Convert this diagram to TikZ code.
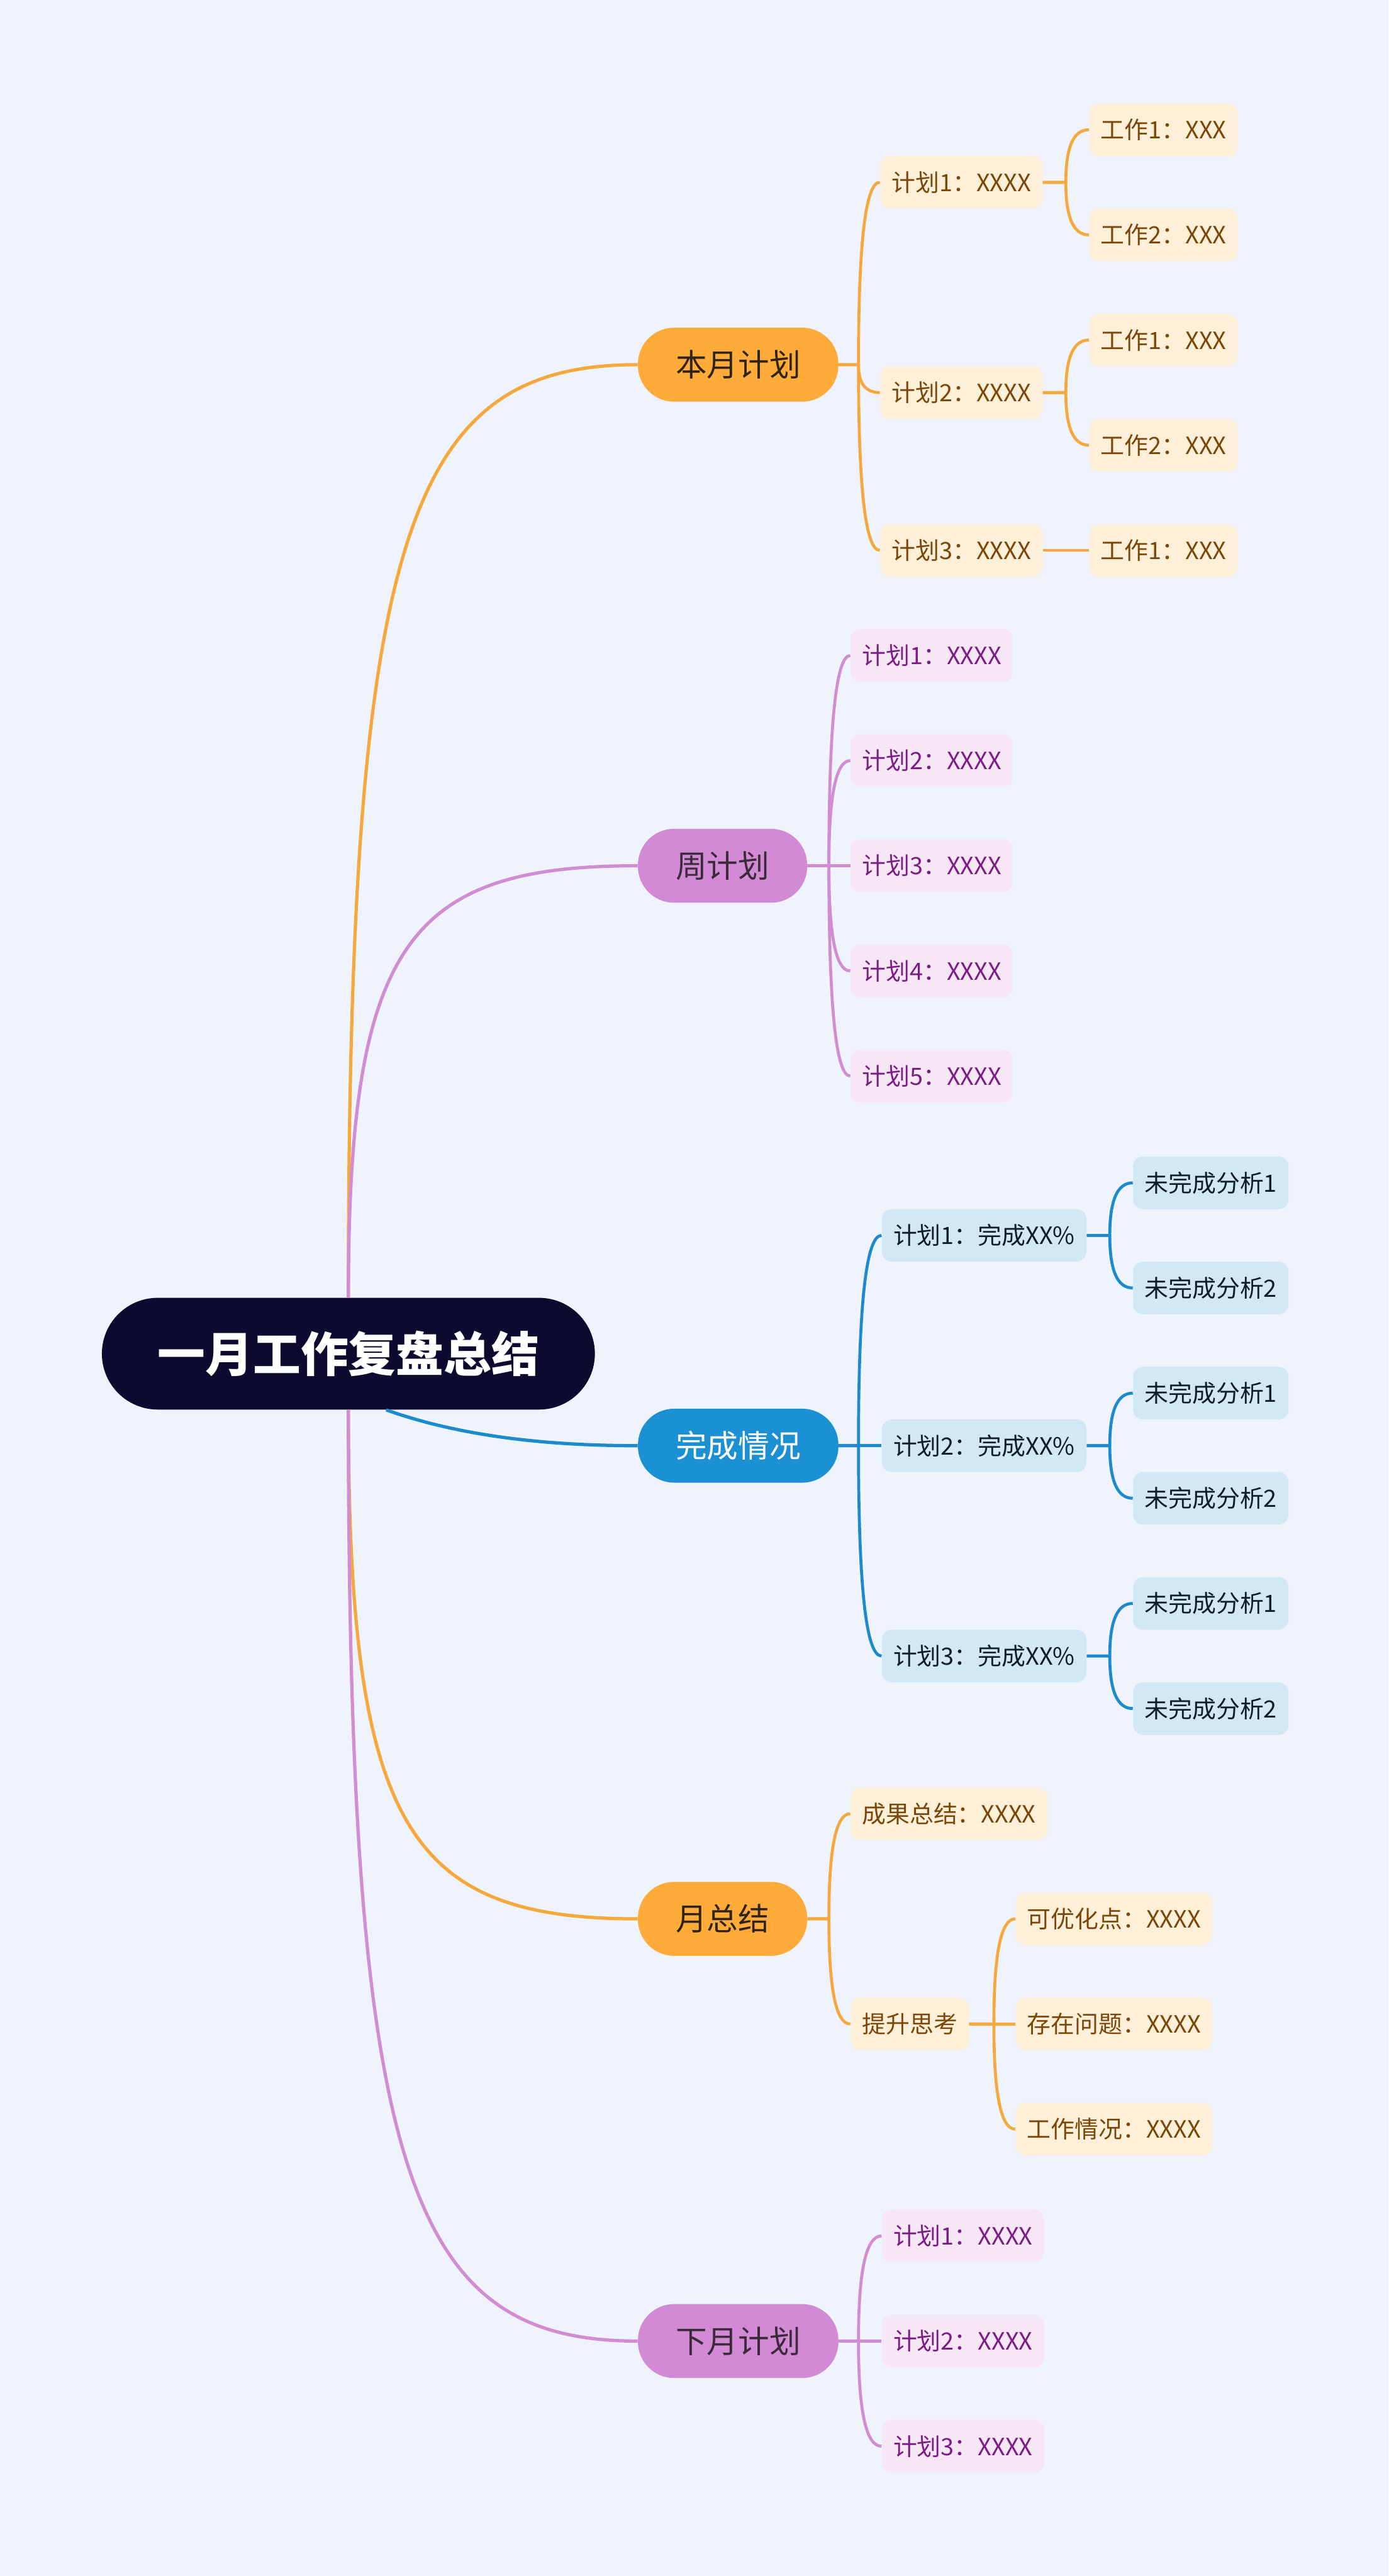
\documentclass[tikz,border=0pt]{standalone}
\usepackage{fontspec}
\setmainfont{Noto Sans CJK SC}
\usetikzlibrary{positioning,calc}

\definecolor{bgcol}{HTML}{EEF3FD}
\definecolor{rootcol}{HTML}{0C0A2E}
\definecolor{orng}{HTML}{FFAB3A}
\definecolor{orngline}{HTML}{F5A83C}
\definecolor{orngleaf}{HTML}{FEEFD9}
\definecolor{orngtext}{HTML}{7A4708}
\definecolor{orngtopic}{HTML}{2F2414}
\definecolor{purp}{HTML}{D38AD4}
\definecolor{purpline}{HTML}{D18CD2}
\definecolor{purpleaf}{HTML}{F6E6F6}
\definecolor{purptext}{HTML}{7C1C86}
\definecolor{purptopic}{HTML}{3A2A3A}
\definecolor{blu}{HTML}{1B90D2}
\definecolor{bluline}{HTML}{1B8BCB}
\definecolor{bluleaf}{HTML}{D2E9F5}
\definecolor{blutext}{HTML}{0E1C2B}

\tikzset{
  leaf/.style={font=\fontsize{14.5}{17}\selectfont, rounded corners=6pt, minimum height=32pt, inner xsep=7pt, inner ysep=2pt},
  oleaf/.style={leaf, fill=orngleaf, text=orngtext},
  pleaf/.style={leaf, fill=purpleaf, text=purptext},
  bleaf/.style={leaf, fill=bluleaf, text=blutext},
  topic/.style={font=\fontsize{19}{22}\selectfont, rounded corners=22pt, minimum height=45pt, inner xsep=23pt, inner ysep=2pt, anchor=west},
  oline/.style={draw=orngline, line width=1.8pt},
  pline/.style={draw=purpline, line width=1.8pt},
  bline/.style={draw=bluline, line width=1.8pt},
  twig/.style={to path={-- ++(#1,0) coordinate (sp) .. controls ($(sp)!.67!(sp |- \tikztotarget)$) and ($(\tikztotarget)!.67!(sp |- \tikztotarget)$) .. (\tikztotarget)}},
  twig/.default=13,
  trunk/.style={to path={.. controls ($(\tikztostart)!.82!(\tikztostart |- \tikztotarget)$) and ($(\tikztotarget)+(-140,0)$) .. (\tikztotarget)}},
}

\begin{document}
\begin{tikzpicture}[x=1pt, y=1pt]
\fill[bgcol] (0,0) rectangle (845,1568);
\useasboundingbox (0,0) rectangle (845,1568);

\node[fill=rootcol, text=white, font=\fontsize{29}{34}\selectfont\bfseries, rounded corners=34pt, minimum width=300pt, minimum height=68pt] (root) at (212,744) {一月工作复盘总结};

\node[topic, fill=orng, text=orngtopic] (plan) at (388,1346) {本月计划};
\node[topic, fill=purp, text=purptopic] (week) at (388,1041) {周计划};
\node[topic, fill=blu, text=white] (done) at (388,688) {完成情况};
\node[topic, fill=orng, text=orngtopic] (summ) at (388,400) {月总结};
\node[topic, fill=purp, text=purptopic] (next) at (388,143) {下月计划};

\draw[oline, line width=2pt] (root.north) to[trunk] (plan.west);
\draw[pline, line width=2pt] (root.north) to[trunk] (week.west);
\draw[bline, line width=2pt] ($(root.south)+(23,0)$) .. controls ($(root.south)+(65,-15)$) and ($(done.west)+(-60,0)$) .. (done.west);
\draw[oline, line width=2pt] (root.south) to[trunk] (summ.west);
\draw[pline, line width=2pt] (root.south) to[trunk] (next.west);

% 本月计划
\node[oleaf, right=25pt of plan, yshift=111pt] (plan1) {计划1：XXXX};
\node[oleaf, right=25pt of plan, yshift=-17pt] (plan2) {计划2：XXXX};
\node[oleaf, right=25pt of plan, yshift=-113pt] (plan3) {计划3：XXXX};
\node[oleaf, right=28pt of plan1, yshift=32pt] (work11) {工作1：XXX};
\node[oleaf, right=28pt of plan1, yshift=-32pt] (work12) {工作2：XXX};
\node[oleaf, right=28pt of plan2, yshift=32pt] (work21) {工作1：XXX};
\node[oleaf, right=28pt of plan2, yshift=-32pt] (work22) {工作2：XXX};
\node[oleaf, right=28pt of plan3] (work31) {工作1：XXX};
\draw[oline] (plan.east) to[twig=12] (plan1.west);
\draw[oline] (plan.east) to[twig=12] (plan2.west);
\draw[oline] (plan.east) to[twig=12] (plan3.west);
\draw[oline] (plan1.east) to[twig=14] (work11.west);
\draw[oline] (plan1.east) to[twig=14] (work12.west);
\draw[oline] (plan2.east) to[twig=14] (work21.west);
\draw[oline] (plan2.east) to[twig=14] (work22.west);
\draw[oline] (plan3.east) to[twig=14] (work31.west);

% 周计划
\foreach \i/\dy in {1/128,2/64,3/0,4/-64,5/-128}{
  \node[pleaf, right=26pt of week, yshift=\dy pt] (week\i) {计划\i：XXXX};
  \draw[pline] (week.east) to[twig] (week\i.west);
}

% 完成情况
\node[bleaf, right=26pt of done, yshift=128pt] (done1) {计划1：完成XX\%};
\node[bleaf, right=26pt of done] (done2) {计划2：完成XX\%};
\node[bleaf, right=26pt of done, yshift=-128pt] (done3) {计划3：完成XX\%};
\draw[bline] (done.east) to[twig=12] (done1.west);
\draw[bline] (done.east) to[twig=12] (done2.west);
\draw[bline] (done.east) to[twig=12] (done3.west);
\foreach \p in {1,2,3}{
  \node[bleaf, right=28pt of done\p, yshift=32pt] (miss\p a) {未完成分析1};
  \node[bleaf, right=28pt of done\p, yshift=-32pt] (miss\p b) {未完成分析2};
  \draw[bline] (done\p.east) to[twig=14] (miss\p a.west);
  \draw[bline] (done\p.east) to[twig=14] (miss\p b.west);
}

% 月总结
\node[oleaf, right=26pt of summ, yshift=64pt] (gain) {成果总结：XXXX};
\node[oleaf, right=26pt of summ, yshift=-64pt] (think) {提升思考};
\node[oleaf, right=28pt of think, yshift=64pt] (think1) {可优化点：XXXX};
\node[oleaf, right=28pt of think] (think2) {存在问题：XXXX};
\node[oleaf, right=28pt of think, yshift=-64pt] (think3) {工作情况：XXXX};
\draw[oline] (summ.east) to[twig] (gain.west);
\draw[oline] (summ.east) to[twig] (think.west);
\draw[oline] (think.east) to[twig=15] (think1.west);
\draw[oline] (think.east) to[twig=15] (think2.west);
\draw[oline] (think.east) to[twig=15] (think3.west);

% 下月计划
\node[pleaf, right=26pt of next, yshift=64pt] (next1) {计划1：XXXX};
\node[pleaf, right=26pt of next] (next2) {计划2：XXXX};
\node[pleaf, right=26pt of next, yshift=-64pt] (next3) {计划3：XXXX};
\draw[pline] (next.east) to[twig=12] (next1.west);
\draw[pline] (next.east) to[twig=12] (next2.west);
\draw[pline] (next.east) to[twig=12] (next3.west);

\end{tikzpicture}
\end{document}
